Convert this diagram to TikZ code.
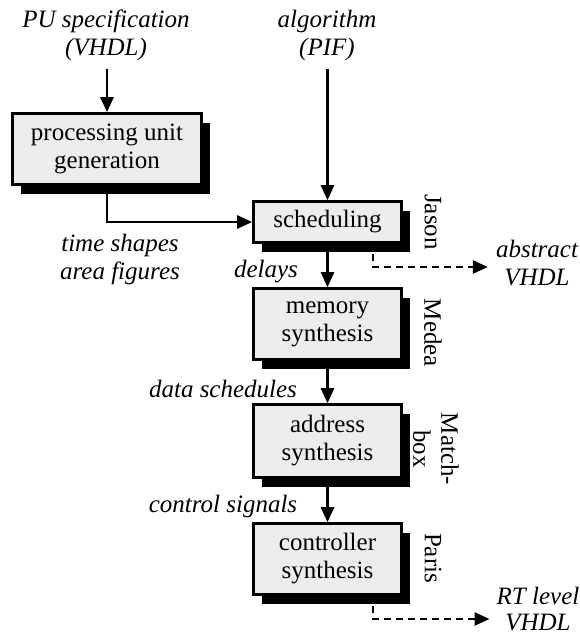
\documentclass[tikz,border=0pt]{standalone}
\usepackage{fontspec}
\setmainfont{Liberation Serif}
\usetikzlibrary{arrows.meta,shadows}
\definecolor{boxgrey}{gray}{0.93}
\begin{document}
\begin{tikzpicture}[x=1pt,y=-1pt,
  every node/.style={font=\fontsize{25}{28}\selectfont, inner sep=0pt},
  stage/.style={draw, line width=2.6pt, fill=boxgrey, minimum width=148pt,
    minimum height=71pt, align=center,
    drop shadow={shadow xshift=8.5pt, shadow yshift=-9pt, fill=black, opacity=1}},
  lbl/.style={font=\fontsize{25}{28}\selectfont\itshape, align=center},
  tool/.style={rotate=-90, align=center},
  flow/.style={line width=2.6pt, -{Triangle[length=15pt,width=13pt]}},
  outflow/.style={flow, dash pattern=on 7pt off 5pt}]
\useasboundingbox (0,0) rectangle (580,637);

% synthesis stages
\node[stage, minimum width=189pt] (pug) at (107,149) {processing unit\\generation};
\node[stage, minimum height=41pt] (sched) at (327.5,222) {scheduling};
\node[stage] (mem) at (327.5,324) {memory\\synthesis};
\node[stage, minimum height=73pt] (addr) at (327.5,441) {address\\synthesis};
\node[stage] (ctrl) at (327.5,559) {controller\\synthesis};

% inputs
\node[lbl] (puspec) at (106,35) {PU specification\\(VHDL)};
\node[lbl] (algo) at (327,35) {algorithm\\(PIF)};
\coordinate (pu top) at (107,69);
\coordinate (algo top) at (327.5,69);
\draw[flow] (pu top) -- (pug);
\draw[flow] (algo top) -- (sched);

% data passed between stages
\draw[flow] (pug.south) |- (sched.west);
\draw[flow] (sched) -- (mem);
\draw[flow] (mem) -- (addr);
\draw[flow] (addr) -- (ctrl);

\node[lbl] (tsaf) at (120,259) {time shapes\\area figures};
\node[lbl] (dly) at (266,272) {delays};
\node[lbl] (dsch) at (223,389) {data schedules};
\node[lbl] (csig) at (223,506) {control signals};

% tool names
\node[tool] (jason) at (433,222) {Jason};
\node[tool] (medea) at (433,333) {Medea};
\node[tool] (matchbox) at (436,449) {Match-\\box};
\node[tool] (paris) at (433,558) {Paris};

% outputs
\node[lbl] (absv) at (537,263) {abstract\\VHDL};
\node[lbl, font=\fontsize{25}{26}\selectfont\itshape] (rtv) at (538,609) {RT level\\VHDL};
\draw[outflow] ([xshift=-30pt,yshift=-10pt]sched.south east) |- ([xshift=-8pt,yshift=-4pt]absv.west);
\draw[outflow] ([xshift=-30pt,yshift=-10pt]ctrl.south east) |- ([xshift=-7pt,yshift=-10pt]rtv.west);
\end{tikzpicture}
\end{document}
